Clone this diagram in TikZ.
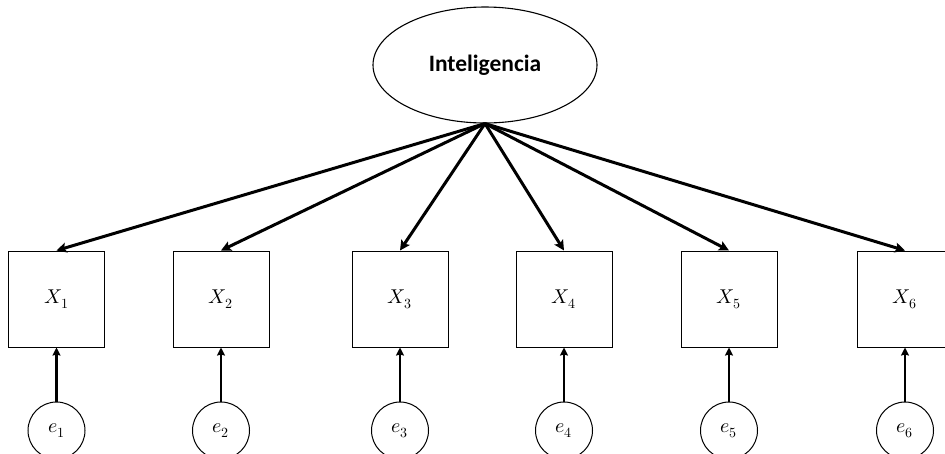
\documentclass[tikz,border=0pt]{standalone}
\usepackage{unicode-math}
\setmathfont{Latin Modern Math}
\newfontfamily\calibri{Carlito}
\usetikzlibrary{shapes.geometric,arrows.meta}
\tikzset{
  latent/.style={draw, line width=1.1pt, ellipse, minimum width=224pt, minimum height=116pt, inner sep=0pt, font=\calibri\bfseries\fontsize{23.5}{28}\selectfont},
  obsbox/.style={draw, line width=1pt, minimum width=96pt, minimum height=96pt, inner sep=0pt, font=\fontsize{20}{24}\selectfont},
  errc/.style={draw, line width=1pt, circle, minimum size=57pt, inner sep=0pt, font=\fontsize{20}{24}\selectfont},
  load/.style={line width=3pt, -{Stealth[length=10pt,width=10pt,inset=2pt]}},
  erra/.style={line width=2.6pt, -{Stealth[length=8pt,width=8pt,inset=1pt]}}
}
\begin{document}
\begin{tikzpicture}[x=1pt,y=-1pt]
\useasboundingbox (0,0) rectangle (945,453);
\clip (0,0) rectangle (945,453);
\node[latent] (F) at (485,65) {Inteligencia};
\coordinate (apex) at (F.south);
\foreach \i/\x in {1/56.5,2/221,3/400,4/564,5/729,6/905}{
  \node[obsbox] (X\i) at (\x,299) {$X_{\i}$};
  \node[errc] (e\i) at (\x,430.5) {$e_{\i}$};
  \draw[load] (apex) -- (X\i.north);
  \draw[erra] (e\i.north) -- (X\i.south);
}
\end{tikzpicture}
\end{document}
